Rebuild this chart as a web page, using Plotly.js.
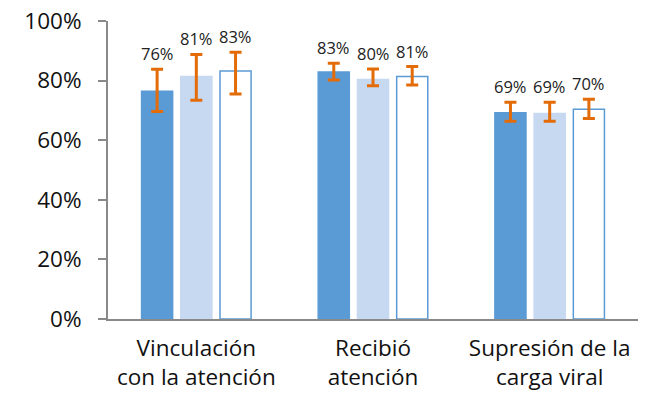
<!DOCTYPE html>
<html>
<head>
<meta charset="utf-8">
<script src="https://cdn.plot.ly/plotly-3.0.1.min.js"></script>
<style>html,body{margin:0;padding:0;background:#fff;}#chart{width:651px;height:412px;}</style>
</head>
<body>
<div id="chart"></div>
<script>
var categories = ["Vinculación<br>con la atención", "Recibió<br>atención", "Supresión de la<br>carga viral"];
var serie1 = [76.4, 82.9, 69.2];
var serie2 = [81.4, 80.4, 69.0];
var serie3 = [83.2, 81.4, 70.4];
var err1Plus = [7.4, 2.9, 3.5], err1Minus = [6.8, 2.7, 2.8];
var err2Plus = [7.4, 3.5, 3.7], err2Minus = [8.0, 2.1, 2.6];
var err3Plus = [6.3, 3.3, 3.3], err3Minus = [7.7, 2.9, 3.1];
var labels1 = ["76%", "83%", "69%"];
var labels2 = ["81%", "80%", "69%"];
var labels3 = ["83%", "81%", "70%"];
var yTicks = [0, 20, 40, 60, 80, 100];
var yTickText = ["0%", "20%", "40%", "60%", "80%", "100%"];

var FONT = "Open Sans, sans-serif";
var offsets = [-0.222, 0, 0.222];
var barW = 0.176;
var idx = categories.map(function(_, i){ return i; });
var errColor = "#e36c09";

function errObj(p, m){
  return {type: "data", symmetric: false, array: p, arrayminus: m,
          color: errColor, thickness: 3, width: 6};
}
var series = [
  {y: serie1, ep: err1Plus, em: err1Minus, lab: labels1, fill: "#5b9bd5", line: "#5b9bd5"},
  {y: serie2, ep: err2Plus, em: err2Minus, lab: labels2, fill: "#c6d9f1", line: "#c6d9f1"},
  {y: serie3, ep: err3Plus, em: err3Minus, lab: labels3, fill: "#ffffff", line: "#5b9bd5"}
];
var traces = [];
var annotations = [];
series.forEach(function(s, k){
  var xs = idx.map(function(i){ return i + offsets[k]; });
  traces.push({
    type: "bar", x: xs, y: s.y, width: barW,
    marker: {color: s.fill, line: {color: s.line, width: 1.5}},
    error_y: errObj(s.ep, s.em),
    hoverinfo: "skip", showlegend: false
  });
  xs.forEach(function(x, i){
    annotations.push({
      x: x, y: s.y[i] + s.ep[i], xref: "x", yref: "y",
      text: s.lab[i], showarrow: false, yanchor: "bottom", yshift: 2,
      font: {family: FONT, size: 16.5, color: "#222"}
    });
  });
});

var layout = {
  width: 651, height: 412,
  margin: {l: 108, r: 13, t: 21, b: 93},
  paper_bgcolor: "#fff", plot_bgcolor: "#fff",
  showlegend: false,
  xaxis: {
    range: [-0.5, 2.5], tickvals: idx, ticktext: categories,
    showline: true, linecolor: "#898989", linewidth: 2,
    ticks: "", showgrid: false, zeroline: false,
    ticklabelstandoff: 8,
    tickfont: {family: FONT, size: 22.5, color: "#111"},
    fixedrange: true
  },
  yaxis: {
    range: [0, 100], tickvals: yTicks, ticktext: yTickText,
    showline: true, linecolor: "#898989", linewidth: 2,
    ticks: "outside", ticklen: 8, tickwidth: 2, tickcolor: "#898989",
    showgrid: false, zeroline: false,
    ticklabelstandoff: 12,
    tickfont: {family: FONT, size: 22.5, color: "#111"},
    fixedrange: true
  },
  annotations: annotations
};
Plotly.newPlot("chart", traces, layout, {staticPlot: true});
</script>
</body>
</html>
